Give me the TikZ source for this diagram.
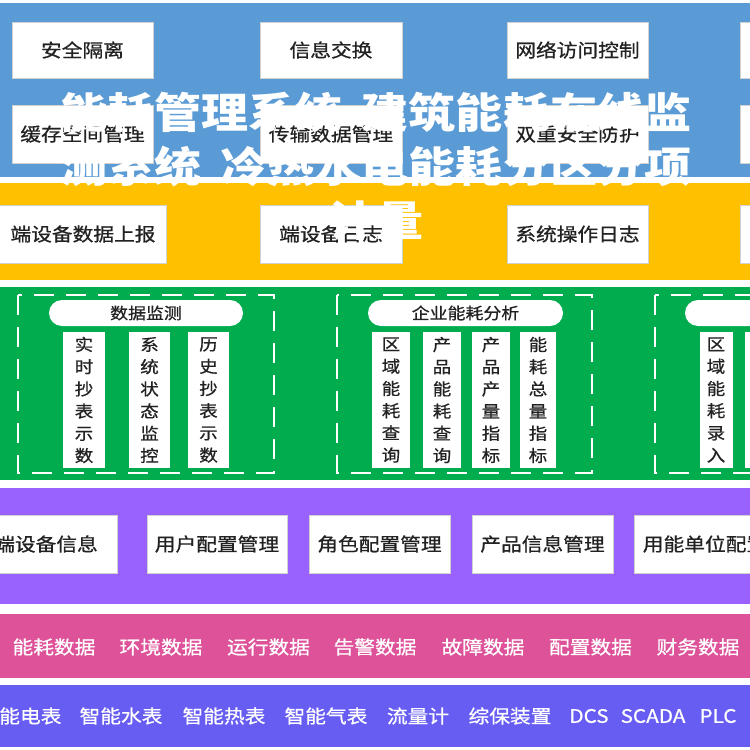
\documentclass[tikz,border=0pt]{standalone}
\usepackage{fontspec}
\newfontfamily\cjk[FakeStretch=1.12,FakeBold=0.7]{Noto Sans CJK SC}
\newfontfamily\cjkt[FakeStretch=1.12]{Noto Sans CJK SC}
\definecolor{bandblue}{RGB}{91,155,213}
\definecolor{bandyellow}{RGB}{255,192,0}
\definecolor{bandgreen}{RGB}{0,172,78}
\definecolor{bandpurple}{RGB}{153,98,255}
\definecolor{bandpink}{RGB}{222,82,154}
\definecolor{bandviolet}{RGB}{103,93,243}
\definecolor{txtdark}{RGB}{34,34,34}
\tikzset{
  wbox/.style={fill=white, draw=black!18, line width=0.6pt, inner sep=0pt, text=txtdark,
     font=\cjk\fontsize{18.5}{20}\selectfont},
  vbox/.style={fill=white, inner sep=0pt, text=txtdark, align=center,
     minimum height=136, font=\cjk\fontsize{16.5}{22.2}\selectfont},
  pill/.style={fill=white, rounded corners=13pt, inner sep=0pt, minimum height=26,
     text=txtdark, font=\cjk\fontsize{16}{18}\selectfont},
  grp/.style={draw=white, line width=2.5pt, dash pattern=on 20pt off 12pt},
  bandtxt/.style={text=white, inner sep=0pt, font=\cjk\fontsize{18.5}{20}\selectfont},
  ttl/.style={text=white, align=center, inner sep=0pt,
     font=\cjkt\bfseries\fontsize{42}{54}\selectfont}
}
\begin{document}
\begin{tikzpicture}[x=1pt,y=-1pt]
\useasboundingbox (0,0) rectangle (750,750);
\clip (0,0) rectangle (750,750);
\fill[white] (0,0) rectangle (750,750);
% bands
\fill[bandblue]   (0,3)   rectangle (750,177);
\fill[bandyellow] (0,183) rectangle (750,280);
\fill[bandgreen]  (0,287) rectangle (750,480);
\fill[bandpurple] (0,488) rectangle (750,604);
\fill[bandpink]   (0,614) rectangle (750,678);
\fill[bandviolet] (0,685) rectangle (750,747);
% blue band boxes
\node[wbox, minimum width=141, minimum height=56] (a1) at (82.5,50) {安全隔离};
\node[wbox, minimum width=142, minimum height=56] (a2) at (331,50) {信息交换};
\node[wbox, minimum width=141, minimum height=56] (a3) at (577.5,50) {网络访问控制};
\node[wbox, minimum width=142, minimum height=56] (a4) at (811,50) {};
\node[wbox, minimum width=141, minimum height=58] (b1) at (82.5,134) {缓存空间管理};
\node[wbox, minimum width=142, minimum height=58] (b2) at (331,134) {传输数据管理};
\node[wbox, minimum width=141, minimum height=58] (b3) at (577.5,134) {双重安全防护};
\node[wbox, minimum width=142, minimum height=58] (b4) at (811,134) {};
% yellow band boxes
\node[wbox, minimum width=167, minimum height=58] (c1) at (83,234) {端设备数据上报};
\node[wbox, minimum width=142, minimum height=58] (c2) at (331,234) {端设备日志};
\node[wbox, minimum width=141, minimum height=58] (c3) at (577.5,234) {系统操作日志};
\node[wbox, minimum width=142, minimum height=58] (c4) at (811,234) {};
% green band groups
\draw[grp] (18,295) rectangle (274,473);
\draw[grp] (337,295) rectangle (592,473);
\draw[grp] (655,295) rectangle (911,473);
\node[pill, minimum width=194] (p1) at (146,313) {数据监测};
\node[pill, minimum width=195] (p2) at (465.5,313) {企业能耗分析};
\node[pill, minimum width=195] (p3) at (782.5,313) {};
\node[vbox, minimum width=42] (v11) at (84,400) {实\\时\\抄\\表\\示\\数};
\node[vbox, minimum width=41] (v12) at (149.5,400) {系\\统\\状\\态\\监\\控};
\node[vbox, minimum width=41] (v13) at (208.5,400) {历\\史\\抄\\表\\示\\数};
\node[vbox, minimum width=38] (v21) at (391,400) {区\\域\\能\\耗\\查\\询};
\node[vbox, minimum width=38] (v22) at (442,400) {产\\品\\能\\耗\\查\\询};
\node[vbox, minimum width=38] (v23) at (491,400) {产\\品\\产\\量\\指\\标};
\node[vbox, minimum width=36] (v24) at (538,400) {能\\耗\\总\\量\\指\\标};
\node[vbox, minimum width=33] (v31) at (716,400) {区\\域\\能\\耗\\录\\入};
\node[vbox, minimum width=36] (v32) at (763,400) {};
% purple band boxes
\node[wbox, minimum width=142, minimum height=58] (d1) at (46,544) {端设备信息};
\node[wbox, minimum width=140, minimum height=58] (d2) at (217,544) {用户配置管理};
\node[wbox, minimum width=141, minimum height=58] (d3) at (379.5,544) {角色配置管理};
\node[wbox, minimum width=141, minimum height=58] (d4) at (542.5,544) {产品信息管理};
\node[wbox, minimum width=142, minimum height=58] (d5) at (705,544) {用能单位配置};
% pink band texts
\node[bandtxt] (e1) at (54,647) {能耗数据};
\node[bandtxt] (e2) at (161,647) {环境数据};
\node[bandtxt] (e3) at (268.5,647) {运行数据};
\node[bandtxt] (e4) at (375,647) {告警数据};
\node[bandtxt] (e5) at (483,647) {故障数据};
\node[bandtxt] (e6) at (590.5,647) {配置数据};
\node[bandtxt] (e7) at (698,647) {财务数据};
% violet band texts
\node[bandtxt] (f1) at (20,716) {智能电表};
\node[bandtxt] (f2) at (121,716) {智能水表};
\node[bandtxt] (f3) at (224,716) {智能热表};
\node[bandtxt] (f4) at (326,716) {智能气表};
\node[bandtxt] (f5) at (418,716) {流量计};
\node[bandtxt] (f6) at (510,716) {综保装置};
\node[bandtxt] (f7) at (589,716) {DCS};
\node[bandtxt] (f8) at (653,716) {SCADA};
\node[bandtxt] (f9) at (718,716) {PLC};
% overlaid title
\node[ttl] (title) at (376,166) {能耗管理系统\hspace{0.45em}建筑能耗在线监\\测系统\hspace{0.45em}冷热水电能耗分区分项\\计量};
\end{tikzpicture}
\end{document}
